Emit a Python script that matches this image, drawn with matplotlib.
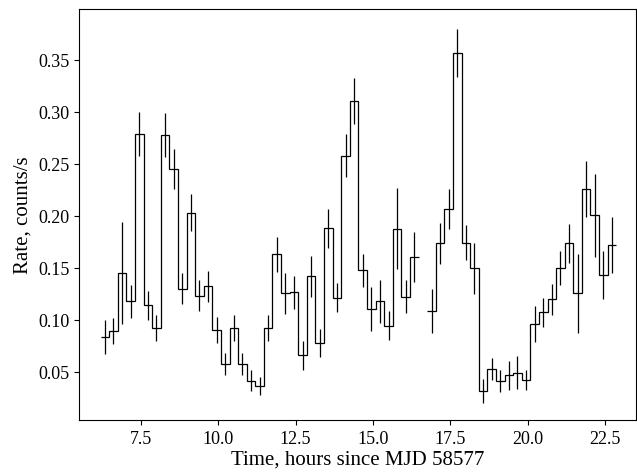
import matplotlib.pyplot as plt
import numpy as np

# light curve, 1000 s bins
time_h = [6.336, 6.614, 6.892, 7.169, 7.447, 7.725, 8.003, 8.280, 8.558, 8.836,
          9.114, 9.391, 9.669, 9.947, 10.225, 10.503, 10.780, 11.058, 11.336, 11.614,
          11.892, 12.169, 12.447, 12.725, 13.003, 13.280, 13.558, 13.836, 14.114, 14.392,
          14.669, 14.947, 15.225, 15.503, 15.780, 16.058, 16.336,
          16.892, 17.169, 17.447, 17.725, 18.003, 18.280, 18.558, 18.836, 19.114,
          19.392, 19.669, 19.947, 20.225, 20.503, 20.780, 21.058, 21.336, 21.614,
          21.892, 22.169, 22.447, 22.725]
rate = [0.0834, 0.0888, 0.145, 0.1177, 0.279, 0.114, 0.092, 0.278, 0.245, 0.130,
        0.203, 0.123, 0.132, 0.0904, 0.0574, 0.0917, 0.057, 0.0413, 0.0362, 0.0917,
        0.163, 0.1254, 0.1263, 0.0658, 0.1417, 0.0776, 0.188, 0.121, 0.258, 0.3106,
        0.1475, 0.1106, 0.1177, 0.0942, 0.1875, 0.122, 0.160,
        0.1087, 0.1735, 0.2067, 0.3567, 0.174, 0.1494, 0.0314, 0.0529, 0.041,
        0.0465, 0.049, 0.042, 0.0959, 0.107, 0.1196, 0.1497, 0.1735, 0.1254,
        0.2257, 0.2007, 0.143, 0.172]
rate_err = [0.016, 0.0125, 0.049, 0.016, 0.021, 0.014, 0.0125, 0.021, 0.019, 0.0145,
            0.018, 0.015, 0.015, 0.0125, 0.0105, 0.0125, 0.0105, 0.010, 0.009, 0.0125,
            0.0167, 0.020, 0.016, 0.0138, 0.020, 0.0135, 0.019, 0.014, 0.021, 0.022,
            0.0157, 0.021, 0.021, 0.014, 0.039, 0.016, 0.024,
            0.021, 0.0195, 0.019, 0.023, 0.017, 0.0245, 0.012, 0.0105, 0.0105,
            0.014, 0.016, 0.0098, 0.0176, 0.014, 0.015, 0.016, 0.0186, 0.0378,
            0.027, 0.040, 0.023, 0.027]

binw = 1000 / 3600.

plt.rcParams['font.family'] = ['Liberation Serif', 'DejaVu Serif']
plt.rcParams['mathtext.fontset'] = 'stix'

t = np.array(time_h)
r = np.array(rate)
e = np.array(rate_err)

fig = plt.figure(figsize=(6.37, 4.77), dpi=100)
ax = fig.add_axes([0.124, 0.1174, 0.8744, 0.8616])

# split into contiguous runs so the gap stays open
breaks = np.where(np.diff(t) > 1.5 * binw)[0] + 1
for tt, rr in zip(np.split(t, breaks), np.split(r, breaks)):
    edges = np.append(tt - binw / 2, tt[-1] + binw / 2)
    ax.stairs(rr, edges, baseline=None, color='k', lw=0.9)

ax.errorbar(t, r, yerr=e, fmt='none', ecolor='k', elinewidth=0.9, capsize=0)

ax.set_xlim(5.5, 23.5)
ax.set_ylim(0.0035, 0.399)
ax.set_xticks([7.5, 10.0, 12.5, 15.0, 17.5, 20.0, 22.5])
ax.set_yticks([0.05, 0.10, 0.15, 0.20, 0.25, 0.30, 0.35])
ax.tick_params(labelsize=13)
ax.set_xlabel("Time, hours since MJD 58577", fontsize=15, labelpad=2)
ax.set_ylabel("Rate, counts/s", fontsize=15)

fig.savefig("out.png", dpi=100)
